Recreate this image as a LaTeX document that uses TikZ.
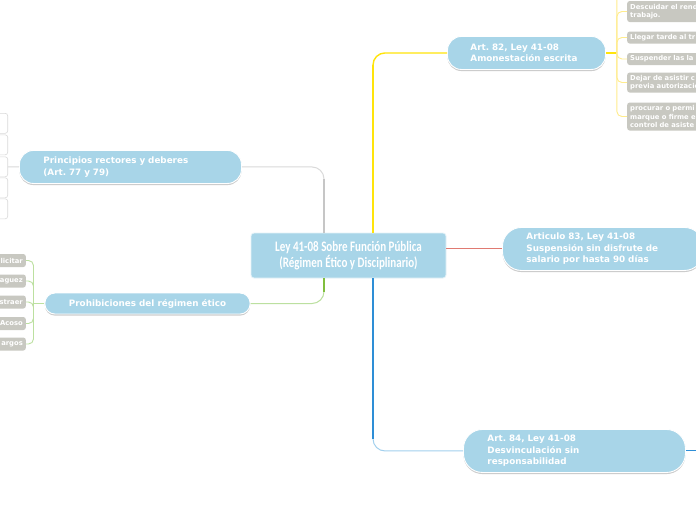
\documentclass[tikz,border=0pt]{standalone}
\usepackage{fontspec}
\usetikzlibrary{positioning, calc, shadows}

\newfontfamily\verdb{DejaVu Sans}
\newfontfamily\condb[FakeStretch=0.76]{Carlito}

\definecolor{topicblue}{HTML}{A8D5E8}
\definecolor{leafgray}{HTML}{C8C8C1}
\definecolor{lngray}{HTML}{DADADA}
\definecolor{lngraydk}{HTML}{C6C6C6}
\definecolor{lnyellow}{HTML}{FFE40A}
\definecolor{lnyellowlt}{HTML}{FFEC8C}
\definecolor{lngreen}{HTML}{80BE3E}
\definecolor{lngreenlt}{HTML}{BCE0A0}
\definecolor{lnred}{HTML}{E07A72}
\definecolor{lnblue}{HTML}{2E8ED6}
\definecolor{lnbluelt}{HTML}{A2D0EE}
\definecolor{lnfaint}{HTML}{E2EBF0}

\begin{document}
\frenchspacing
\begin{tikzpicture}[
    x=1pt, y=-1pt,
    topic/.style={
        draw=white, line width=0.9pt, fill=topicblue, text=white,
        font=\verdb\bfseries\fontsize{8.8}{11.6}\selectfont, align=left,
        inner xsep=24pt, inner ysep=0pt, anchor=north west,
        drop shadow={shadow xshift=0pt, shadow yshift=-1.6pt,
                     fill=black!50, opacity=.4},
    },
    rootbox/.style={
        draw=white!70!topicblue, line width=0.8pt, fill=topicblue, text=white,
        rounded corners=3pt, align=center,
        font=\condb\bfseries\fontsize{14.5}{16}\selectfont,
        minimum width=195pt, minimum height=45pt,
    },
    leaf/.style={
        fill=leafgray, text=white, rounded corners=2.5pt,
        font=\verdb\bfseries\fontsize{6.8}{8.6}\selectfont,
        inner xsep=3pt, inner ysep=2.2pt,
    },
    emptyleaf/.style={
        draw=lngray, fill=white, rounded corners=2.5pt, line width=0.6pt,
        minimum width=30pt, minimum height=20pt, anchor=north east,
    },
    br/.style={line width=1pt, rounded corners=12pt},
    brthick/.style={line width=2.3pt, shorten >=12pt},
    twig/.style={line width=0.9pt, rounded corners=5pt},
]

\useasboundingbox (0,0) rectangle (696,520);
\clip (0,0) rectangle (696,520);
\fill[white] (0,0) rectangle (696,520);

% --- Central topic -----------------------------------------
\node[rootbox] (root) at (348.5,255.5)
    {Ley 41-08 Sobre Función Pública\\(Régimen Ético y Disciplinario)};

% --- Main topics -------------------------------------------
\node[topic, text width=174pt, minimum height=33pt, rounded corners=14pt]
    (princ) at (19,150) {Principios rectores y deberes\\(Art. 77 y 79)};
\node[topic, anchor=center, align=center, minimum width=195pt,
      minimum height=21pt, rounded corners=10pt]
    (prohib) at (147.5,303.5) {Prohibiciones del régimen ético};
\node[topic, text width=112pt, inner xsep=23pt, minimum height=33pt,
      rounded corners=14pt]
    (art82) at (447,36) {Art. 82, Ley 41-08\\Amonestación escrita};
\node[topic, text width=153pt, minimum height=43pt, rounded corners=19pt]
    (art83) at (502,227)
    {Articulo 83, Ley 41-08\\Suspensión sin disfrute de\\salario por hasta 90 días};
\node[topic, text width=174pt, minimum height=43pt, rounded corners=19pt]
    (art84) at (463,429)
    {Art. 84, Ley 41-08\\Desvinculación sin\\responsabilidad};

% --- Branches from the centre ------------------------------
\draw[br, lngray] ([xshift=-24.5pt]root.north) |- (princ.east);
\draw[brthick, lngraydk] ([xshift=-24.5pt]root.north)
    -- ([xshift=-24.5pt]root.north |- princ.east);

\draw[br, lnyellow, line width=1.4pt] ([xshift=24.5pt]root.north) |- (art82.west);
\draw[brthick, lnyellow] ([xshift=24.5pt]root.north)
    -- ([xshift=24.5pt]root.north |- art82.west);

\draw[br, lngreenlt] ([xshift=-24.5pt]root.south) |- (prohib.east);
\draw[brthick, lngreen] ([xshift=-24.5pt]root.south)
    -- ([xshift=-24.5pt]root.south |- prohib.east);

\draw[br, lnbluelt] ([xshift=24.5pt]root.south) |- (art84.west);
\draw[brthick, lnblue] ([xshift=24.5pt]root.south)
    -- ([xshift=24.5pt]root.south |- art84.west);

\draw[line width=1pt, lnred] (root.east |- art83.west) -- (art83.west);

% --- Leaves of Art. 82 -------------------------------------
\node[leaf, anchor=west, text width=100pt, minimum height=21pt] (y1) at (627,11.5)
    {Descuidar el rend\\trabajo.};
\node[leaf, anchor=west, text width=100pt, minimum height=12pt] (y2) at (627,37.5)
    {Llegar tarde al tr};
\node[leaf, anchor=west, text width=100pt, minimum height=12pt] (y3) at (627,59)
    {Suspender las la};
\node[leaf, anchor=west, text width=100pt, minimum height=20pt] (y4) at (627,82.5)
    {Dejar de asistir c\\previa autorizació};
\node[leaf, anchor=west, text width=100pt, minimum height=28pt] (y5) at (627,116.5)
    {procurar o permi\\marque o firme e\\control de asiste};

\coordinate (yfork) at ($(art82.east)+(11,0)$);
\coordinate (ytop) at (627,-6);
\draw[twig, lnyellow, line width=1.2pt] (art82.east) -- (yfork);
\draw[twig, lnyellowlt] (yfork) |- (ytop);
\foreach \i in {1,...,5}
    \draw[twig, lnyellowlt] (yfork) |- (y\i.west);

% --- Leaves of the prohibitions ----------------------------
\foreach \i/\yy/\txt in {1/260.5/licitar, 2/281/aguez, 3/302/straer,
                         4/323.5/Acoso, 5/344/argos}
    \node[leaf, anchor=east, text width=36pt, align=right, minimum height=13pt]
        (g\i) at (26,\yy) {\txt};

\coordinate (gfork) at ($(prohib.west)+(-11,0)$);
\draw[twig, lngreenlt] (prohib.west) -- (gfork);
\foreach \i in {1,...,5}
    \draw[twig, lngreenlt] (gfork) |- (g\i.east);

% --- Leaves of the principles ------------------------------
\foreach \i/\yy in {1/113, 2/134.5, 3/156.5, 4/177.5, 5/198.5}
    \node[emptyleaf] (w\i) at (8,\yy) {};
\draw[line width=1pt, lngray] (princ.west) -- (w3.east);

% --- Art. 84 onwards ---------------------------------------
\coordinate (bfork) at ($(art84.east)+(10,0)$);
\coordinate (btop) at ($(bfork)+(0,-52)$);
\coordinate (bbot) at ($(bfork)+(0,45)$);
\draw[line width=1pt, lnblue] (art84.east) -- (bfork);
\draw[line width=0.8pt, lnfaint] (btop) -- (bbot);

\end{tikzpicture}
\end{document}
